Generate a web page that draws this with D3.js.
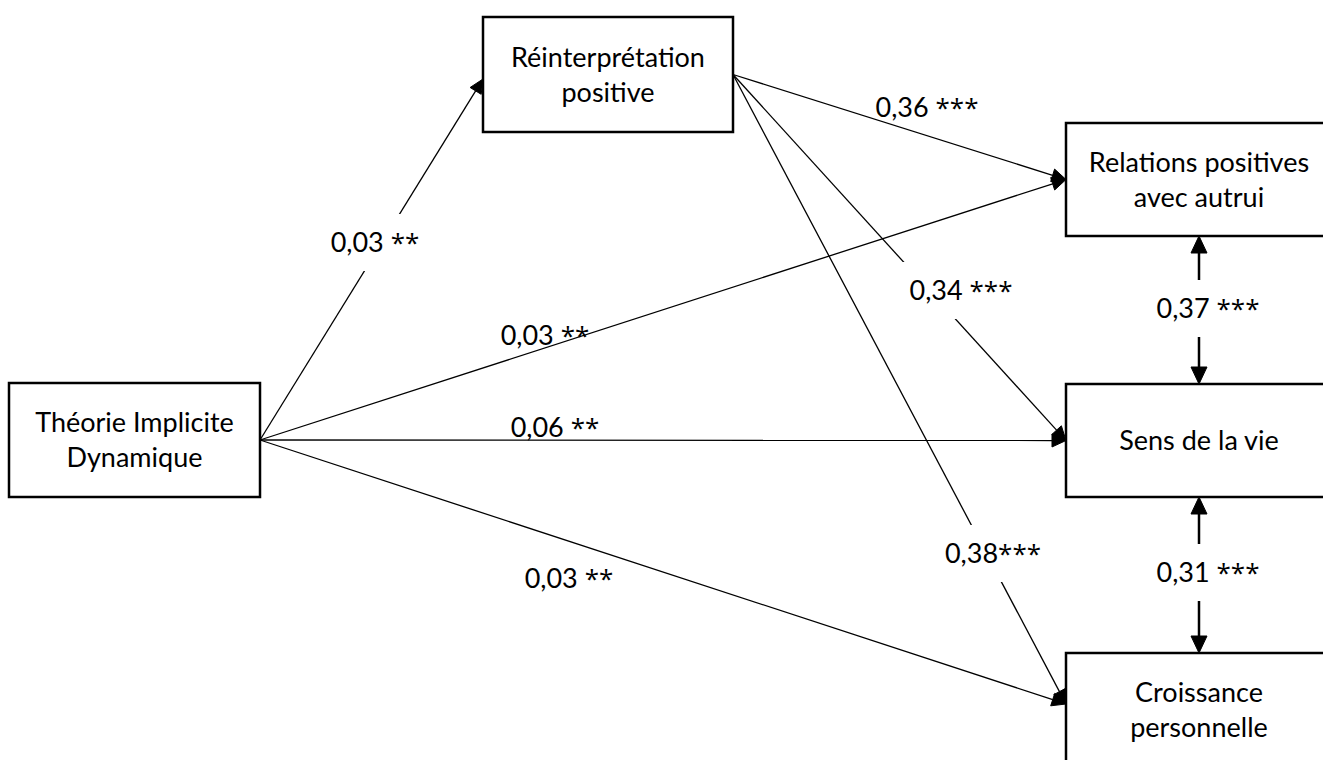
<!DOCTYPE html>
<html>
<head>
<meta charset="utf-8">
<script src="https://cdn.jsdelivr.net/npm/d3@7"></script>
<style>
  html, body { margin: 0; padding: 0; background: #fff; overflow: hidden; }
  svg { display: block; }
  text { font-family: Lato, "Open Sans", sans-serif; fill: #000; }
  .ast { font-family: "Open Sans", Lato, sans-serif; }
</style>
</head>
<body>
<svg id="chart" width="1323" height="760"></svg>
<script>
// ---------- DATA ----------
const nodeIds = ["TID", "RP", "REL", "SENS", "CROIS"];
const nodeLabels = [
  ["Théorie Implicite", "Dynamique"],
  ["Réinterprétation", "positive"],
  ["Relations positives", "avec autrui"],
  ["Sens de la vie"],
  ["Croissance", "personnelle"]
];
const pathFrom = ["TID", "TID", "TID", "TID", "RP", "RP", "RP"];
const pathTo   = ["RP", "REL", "SENS", "CROIS", "REL", "SENS", "CROIS"];
const pathCoef = ["0,03 **", "0,03 **", "0,06 **", "0,03 **", "0,36 ***", "0,34 ***", "0,38***"];
const corrFrom = ["REL", "SENS"];
const corrTo   = ["SENS", "CROIS"];
const corrCoef = ["0,37 ***", "0,31 ***"];

// ---------- LAYOUT (positions / styles) ----------
const W = 1323, H = 760;
const x = d3.scaleIdentity().domain([0, W]);
const y = d3.scaleIdentity().domain([0, H]);

const boxLayout = {
  TID:   { x: 9,    y: 383, w: 251, h: 114 },
  RP:    { x: 483,  y: 17,  w: 250, h: 115 },
  REL:   { x: 1066, y: 123, w: 266, h: 113 },
  SENS:  { x: 1066, y: 384, w: 266, h: 113 },
  CROIS: { x: 1066, y: 653, w: 266, h: 114 }
};
const targetAnchorY = { RP: 62, CROIS: 51 };
const pathLabelPos = [
  { cx: 375,  by: 252, mask: true },
  { cx: 545,  by: 345, mask: false },
  { cx: 555,  by: 437, mask: false },
  { cx: 569,  by: 588, mask: false },
  { cx: 927,  by: 117, mask: false },
  { cx: 961,  by: 300, mask: true },
  { cx: 993,  by: 563, mask: true }
];
const corrLabelPos = [
  { cx: 1208, by: 318 },
  { cx: 1208, by: 582 }
];
const corrX = 1199;
const FONT = 27;

const svg = d3.select("#chart");
svg.append("rect").attr("width", W).attr("height", H).attr("fill", "#fff");

const gLines = svg.append("g");
const gMask = svg.append("g");
const gHeads = svg.append("g");
const gBoxes = svg.append("g");
const gLabels = svg.append("g");

function arrowHead(g, tip, from, len, half) {
  const dx = tip[0] - from[0], dy = tip[1] - from[1];
  const L = Math.hypot(dx, dy);
  const ux = dx / L, uy = dy / L;
  const bx = tip[0] - ux * len, by = tip[1] - uy * len;
  const px = -uy, py = ux;
  g.append("path")
    .attr("d", d3.line()([[tip[0], tip[1]], [bx + px * half, by + py * half], [bx - px * half, by - py * half]]) + "Z")
    .attr("fill", "#000").attr("stroke", "#000").attr("stroke-width", 1).attr("stroke-linejoin", "round");
  return [bx, by];
}

// ---------- paths ----------
pathFrom.forEach((f, i) => {
  const s = boxLayout[f], t = boxLayout[pathTo[i]];
  const src = [x(s.x + s.w), y(s.y + s.h / 2)];
  const ty = targetAnchorY[pathTo[i]] !== undefined ? t.y + targetAnchorY[pathTo[i]] : t.y + t.h / 2;
  const tip = [x(t.x), y(ty)];
  const base = arrowHead(gHeads, tip, src, 14, 6.5);
  gLines.append("line")
    .attr("x1", src[0]).attr("y1", src[1]).attr("x2", base[0]).attr("y2", base[1])
    .attr("stroke", "#000").attr("stroke-width", 1.3);
});

// ---------- correlations (double arrows) ----------
corrFrom.forEach((f, i) => {
  const a = boxLayout[f], b = boxLayout[corrTo[i]];
  const top = [x(corrX), y(a.y + a.h)];
  const bot = [x(corrX), y(b.y)];
  const b1 = arrowHead(gHeads, top, bot, 17, 8);
  const b2 = arrowHead(gHeads, bot, top, 17, 8);
  gLines.append("line")
    .attr("x1", b1[0]).attr("y1", b1[1]).attr("x2", b2[0]).attr("y2", b2[1])
    .attr("stroke", "#000").attr("stroke-width", 2.5);
});

// ---------- boxes ----------
nodeIds.forEach((id, i) => {
  const b = boxLayout[id];
  gBoxes.append("rect")
    .attr("x", x(b.x)).attr("y", y(b.y)).attr("width", b.w).attr("height", b.h)
    .attr("fill", "#fff").attr("stroke", "#000").attr("stroke-width", 2.5);
  const lines = nodeLabels[i];
  const mid = b.y + b.h / 2;
  const first = mid + 9.5 - (lines.length - 1) * 17.5;
  lines.forEach((txt, k) => {
    gBoxes.append("text")
      .attr("x", x(b.x + b.w / 2)).attr("y", y(first + k * 35))
      .attr("text-anchor", "middle").attr("font-size", FONT)
      .text(txt);
  });
});

// ---------- labels ----------
function addLabel(txt, cx, by, mask) {
  const m = txt.match(/^([^*]*)(\**)$/);
  const t = gLabels.append("text")
    .attr("x", x(cx)).attr("y", y(by))
    .attr("text-anchor", "middle").attr("font-size", FONT);
  t.append("tspan").text(m[1]);
  t.append("tspan").attr("class", "ast").attr("font-size", FONT - 1).text(m[2]);
  if (mask) {
    const bb = t.node().getBBox();
    gMask.append("rect")
      .attr("x", bb.x - 8).attr("y", by - 38)
      .attr("width", bb.width + 16).attr("height", 57)
      .attr("fill", "#fff");
  }
}
pathCoef.forEach((c, i) => addLabel(c, pathLabelPos[i].cx, pathLabelPos[i].by, pathLabelPos[i].mask));
corrCoef.forEach((c, i) => addLabel(c, corrLabelPos[i].cx, corrLabelPos[i].by, true));
</script>
</body>
</html>
